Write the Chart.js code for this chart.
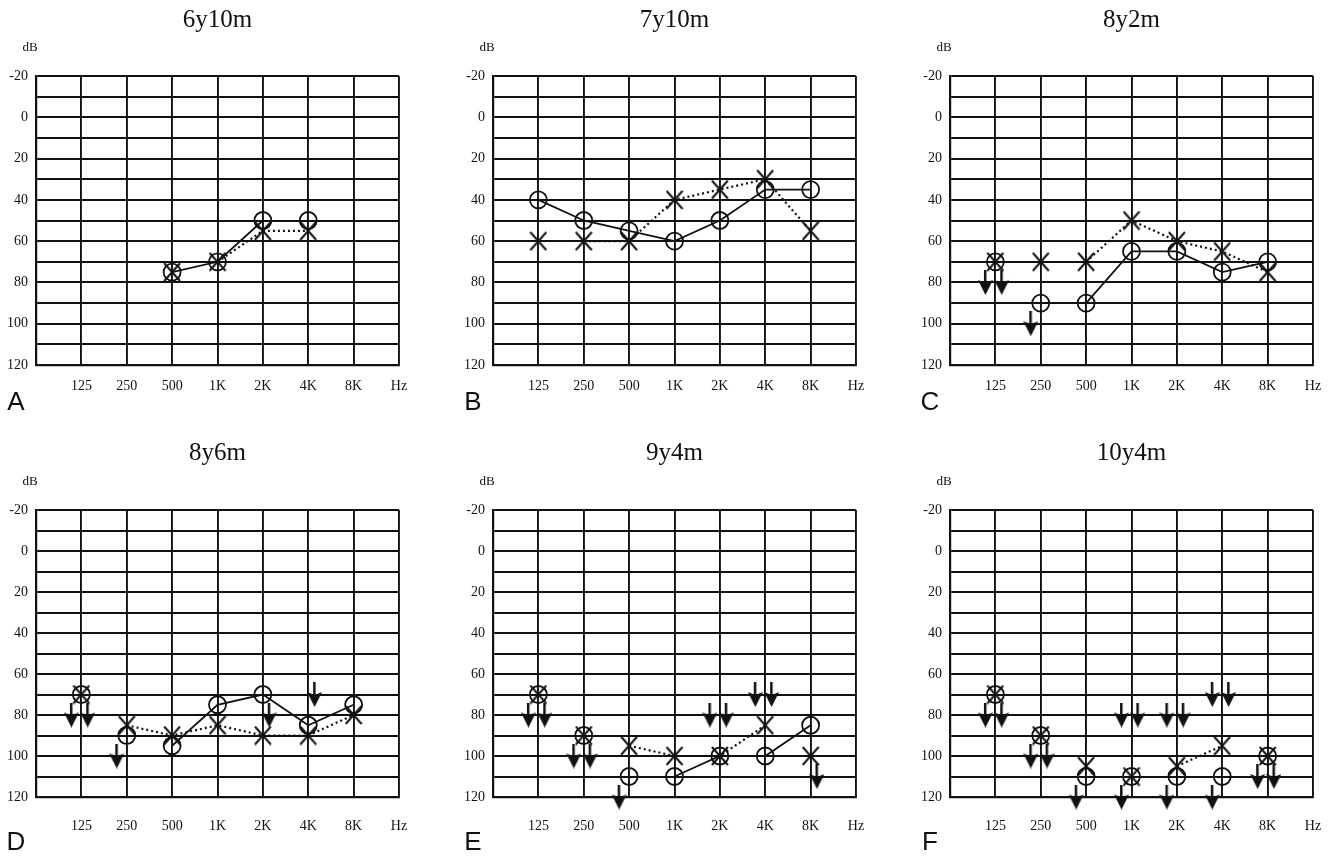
<!DOCTYPE html>
<html>
<head>
<meta charset="utf-8">
<script src="https://cdn.jsdelivr.net/npm/chart.js@4.4.1/dist/chart.umd.min.js"></script>
<style>
  html, body { margin: 0; padding: 0; background: #fff; overflow: hidden; }
  #wrap { position: relative; width: 1343px; height: 859px; }
  #wrap canvas { position: absolute; }
</style>
</head>
<body>
<div id="wrap"></div>
<script>
// ----------------------------
// DATA
// ----------------------------
const freqLabels = ["", "125", "250", "500", "1K", "2K", "4K", "8K", "Hz"];
const dbTicks = [-20, 0, 20, 40, 60, 80, 100, 120];

const panelTitles = ["6y10m", "7y10m", "8y2m", "8y6m", "9y4m", "10y4m"];
const panelLetters = ["A", "B", "C", "D", "E", "F"];

// thresholds (dB) at 125, 250, 500, 1K, 2K, 4K, 8K — O = right ear, X = left ear
const rightA = [null, null, 75, 70, 50, 50, null];
const leftA  = [null, null, 75, 70, 55, 55, null];
const rightB = [40, 50, 55, 60, 50, 35, 35];
const leftB  = [60, 60, 60, 40, 35, 30, 55];
const rightC = [70, 90, 90, 65, 65, 75, 70];
const leftC  = [70, 70, 70, 50, 60, 65, 75];
const rightD = [70, 90, 95, 75, 70, 85, 75];
const leftD  = [70, 85, 90, 85, 90, 90, 80];
const rightE = [70, 90, 110, 110, 100, 100, 85];
const leftE  = [70, 90, 95, 100, 100, 85, 100];
const rightF = [70, 90, 110, 110, 110, 110, 100];
const leftF  = [70, 90, 105, 110, 105, 95, 100];

// which frequencies are joined by a line [first, last] (index into the arrays above)
const rightSpanA = [2, 4], leftSpanA = [3, 5];
const rightSpanB = [0, 6], leftSpanB = [1, 6];
const rightSpanC = [2, 6], leftSpanC = [2, 6];
const rightSpanD = [2, 6], leftSpanD = [1, 6];
const rightSpanE = [3, 6], leftSpanE = [2, 5];
const rightSpanF = null,   leftSpanF = [4, 5];

// no-response arrows: [frequency index, dB, ear]
const arrowsA = [];
const arrowsB = [];
const arrowsC = [[0, 80, "R"], [0, 80, "L"], [1, 100, "R"]];
const arrowsD = [[0, 80, "R"], [0, 80, "L"], [1, 100, "R"], [4, 80, "L"], [5, 70, "L"]];
const arrowsE = [[0, 80, "R"], [0, 80, "L"], [1, 100, "R"], [1, 100, "L"], [2, 120, "R"],
                 [4, 80, "R"], [4, 80, "L"], [5, 70, "R"], [5, 70, "L"], [6, 110, "L"]];
const arrowsF = [[0, 80, "R"], [0, 80, "L"], [1, 100, "R"], [1, 100, "L"], [2, 120, "R"],
                 [3, 80, "R"], [3, 80, "L"], [3, 120, "R"], [4, 80, "R"], [4, 80, "L"],
                 [4, 120, "R"], [5, 70, "R"], [5, 70, "L"], [5, 120, "R"],
                 [6, 110, "R"], [6, 110, "L"]];

const panels = [
  { right: rightA, left: leftA, rSpan: rightSpanA, lSpan: leftSpanA, arrows: arrowsA },
  { right: rightB, left: leftB, rSpan: rightSpanB, lSpan: leftSpanB, arrows: arrowsB },
  { right: rightC, left: leftC, rSpan: rightSpanC, lSpan: leftSpanC, arrows: arrowsC },
  { right: rightD, left: leftD, rSpan: rightSpanD, lSpan: leftSpanD, arrows: arrowsD },
  { right: rightE, left: leftE, rSpan: rightSpanE, lSpan: leftSpanE, arrows: arrowsE },
  { right: rightF, left: leftF, rSpan: rightSpanF, lSpan: leftSpanF, arrows: arrowsF }
];

// ----------------------------
// LAYOUT
// ----------------------------
const CELL_W = 457, CELL_H = 430;
const rows = [
  { top: 0,   plotTop: 76, plotBottom: 365, tickPad: 13, titleY: 20, dbY: 48, letterY: 403 },
  { top: 430, plotTop: 80, plotBottom: 367, tickPad: 21, titleY: 23, dbY: 52, letterY: 413 }
];
const PLOT_LEFT = 36, PLOT_RIGHT = 399;
const INK = "#111";

// ----------------------------
// MARKER IMAGES
// ----------------------------
function makeCross() {
  const c = document.createElement("canvas");
  c.width = 18; c.height = 20;
  const g = c.getContext("2d");
  g.strokeStyle = INK;
  g.lineWidth = 2;
  g.beginPath();
  g.moveTo(1, 1); g.lineTo(17, 19);
  g.moveTo(17, 1); g.lineTo(1, 19);
  g.stroke();
  return c;
}

function makeArrow() {
  const c = document.createElement("canvas");
  c.width = 15; c.height = 25;
  const g = c.getContext("2d");
  g.fillStyle = INK;
  g.fillRect(6, 0, 2.5, 14);
  g.beginPath();
  g.moveTo(0, 10);
  g.lineTo(7.5, 13);
  g.lineTo(15, 10);
  g.lineTo(7.5, 25);
  g.closePath();
  g.fill();
  return c;
}

const crossImg = makeCross();
const arrowImg = makeArrow();

// ----------------------------
// HELPERS
// ----------------------------
function toPoints(values) {
  return values.map((v, i) => ({ x: i + 1, y: v }));
}

function toSpan(values, span) {
  return values.map((v, i) => ({
    x: i + 1,
    y: span && i >= span[0] && i <= span[1] ? v : null
  }));
}

function toArrows(list) {
  // right-ear arrows sit lower-left, left-ear arrows lower-right
  return list.map(a => ({ x: a[0] + 1 + (a[2] === "R" ? -0.22 : 0.14), y: a[1] }));
}

const panelText = {
  id: "panelText",
  afterDraw(chart, args, opts) {
    const { ctx, chartArea } = chart;
    ctx.save();
    ctx.fillStyle = INK;
    ctx.textBaseline = "middle";
    ctx.textAlign = "center";
    ctx.font = "25px 'Liberation Serif'";
    ctx.fillText(opts.title, (chartArea.left + chartArea.right) / 2, opts.titleY);
    ctx.font = "13px 'Liberation Serif'";
    ctx.fillText("dB", 30, opts.dbY);
    ctx.font = "26px 'Liberation Sans'";
    ctx.fillText(opts.letter, 16, opts.letterY);
    ctx.restore();
  }
};

// ----------------------------
// BUILD CHARTS
// ----------------------------
const wrap = document.getElementById("wrap");

panels.forEach((p, idx) => {
  const row = rows[Math.floor(idx / 3)];
  const col = idx % 3;

  const canvas = document.createElement("canvas");
  canvas.width = CELL_W;
  canvas.height = CELL_H;
  canvas.style.left = col * CELL_W + "px";
  canvas.style.top = row.top + "px";
  wrap.appendChild(canvas);

  new Chart(canvas, {
    type: "line",
    data: {
      datasets: [
        {
          data: toArrows(p.arrows),
          showLine: false,
          pointStyle: arrowImg,
          pointRadius: 6,
          clip: false
        },
        {
          data: toPoints(p.left),
          showLine: false,
          pointStyle: crossImg,
          pointRadius: 8,
          clip: false
        },
        {
          data: toPoints(p.right),
          showLine: false,
          pointStyle: "circle",
          pointRadius: 8.5,
          pointBorderWidth: 1.8,
          pointBorderColor: INK,
          pointBackgroundColor: "rgba(0,0,0,0)",
          clip: false
        },
        {
          data: toSpan(p.right, p.rSpan),
          borderColor: INK,
          borderWidth: 1.8,
          pointRadius: 0,
          clip: false
        },
        {
          data: toSpan(p.left, p.lSpan),
          borderColor: INK,
          borderWidth: 2.2,
          borderDash: [2, 3],
          pointRadius: 0,
          clip: false
        }
      ]
    },
    options: {
      responsive: false,
      animation: false,
      devicePixelRatio: 1,
      layout: {
        padding: { top: row.plotTop, right: CELL_W - PLOT_RIGHT, left: 0, bottom: 0 }
      },
      plugins: {
        legend: { display: false },
        tooltip: { enabled: false },
        panelText: {
          title: panelTitles[idx],
          letter: panelLetters[idx],
          titleY: row.titleY,
          dbY: row.dbY,
          letterY: row.letterY
        }
      },
      scales: {
        x: {
          type: "linear",
          min: 0,
          max: 8,
          afterFit: s => { s.height = CELL_H - row.plotBottom; },
          ticks: {
            stepSize: 1,
            autoSkip: false,
            maxRotation: 0,
            padding: row.tickPad,
            color: INK,
            font: { family: "Liberation Serif", size: 14 },
            callback: v => freqLabels[v]
          },
          grid: { color: INK, lineWidth: 1.9, drawTicks: false },
          border: { color: INK, width: 2.2 }
        },
        y: {
          type: "linear",
          min: dbTicks[0],
          max: dbTicks[dbTicks.length - 1],
          reverse: true,
          afterFit: s => { s.width = PLOT_LEFT; },
          ticks: {
            stepSize: 10,
            autoSkip: false,
            padding: 8,
            color: INK,
            font: { family: "Liberation Serif", size: 14 },
            callback: v => (dbTicks.includes(v) ? String(v) : "")
          },
          grid: { color: INK, lineWidth: 1.9, drawTicks: false },
          border: { color: INK, width: 2.2 }
        }
      }
    },
    plugins: [panelText]
  });
});
</script>
</body>
</html>
